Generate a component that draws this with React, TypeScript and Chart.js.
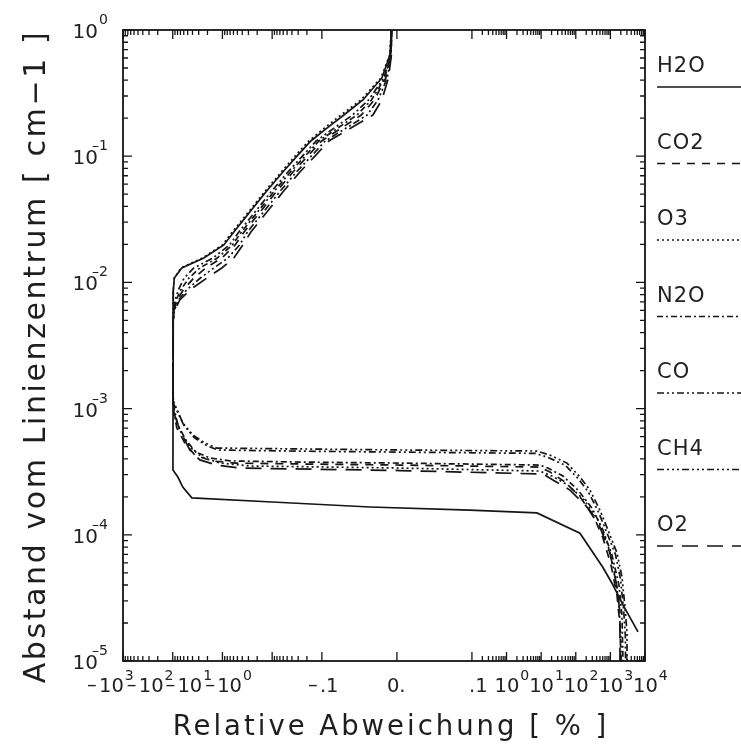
import React, { useEffect, useRef } from 'react';
import { Chart, Scale, registerables } from 'chart.js';

// ---------- axes ----------
const xMin = -1000;
const xMax = 10000;
const yMin = 1e-5;
const yMax = 1;
const xTickValues = [-1000, -100, -10, -1, -0.1, 0, 0.1, 1, 10, 100, 1000, 10000];
const xTickLabels = ['–10^3', '–10^2', '–10^1', '–10^0', '–.1', '0.', '.1', '10^0', '10^1', '10^2', '10^3', '10^4'];
const yTickExponents = [0, -1, -2, -3, -4, -5];

// ---------- data: relative deviation [%] vs. distance from line centre [cm-1] ----------
// upper branch (shared distances)
const upperY = [1, 0.634, 0.417, 0.279, 0.212, 0.167, 0.132, 0.102, 0.075, 0.052, 0.0361, 0.0251, 0.0198, 0.0156, 0.013, 0.01083, 0.0087, 0.00726, 0.00604, 0.00503];

const h2oUpperX = [-0.0073, -0.0093, -0.02, -0.0453, -0.0707, -0.0933, -0.1665, -0.304, -0.609, -1.339, -2.81, -5.9, -9.37, -23.7, -65.6, -92.9, -97.3, -98.2, -98.3, -98.4];
const h2oLowerX = [-98.6, -99, -78.9, -62.7, -41.3, -1.0, -0.036, 0.097, 7.56, 132, 611, 1189, 2310, 6280];
const h2oLowerY = [1.2e-3, 3.26e-4, 2.87e-4, 2.39e-4, 1.96e-4, 1.82e-4, 1.66e-4, 1.57e-4, 1.49e-4, 1.03e-4, 5.5e-5, 4.0e-5, 2.78e-5, 1.7e-5];

const co2UpperX = [-0.0072, -0.0081, -0.0148, -0.0301, -0.0475, -0.0741, -0.101, -0.1843, -0.3797, -0.835, -1.752, -3.68, -5.53, -10.3, -21.6, -37.8, -61.5, -81.6, -93.3, -98.2];
const co2LowerX = [-98.6, -99, -82.7, -57.1, -35.9, -16.3, -5.5, -0.28, 0.004, 9.2, 17.9, 48.8, 132, 314, 611, 1040, 1552, 1890, 2020];
const co2LowerY = [2e-3, 1.05e-3, 7.02e-4, 5.34e-4, 4.28e-4, 3.85e-4, 3.7e-4, 3.64e-4, 3.57e-4, 3.44e-4, 3.15e-4, 2.62e-4, 2.0e-4, 1.44e-4, 9.44e-5, 5.77e-5, 3.33e-5, 1.93e-5, 1e-5];

const o3UpperX = [-0.0073, -0.0096, -0.0213, -0.048, -0.0747, -0.0967, -0.1826, -0.3336, -0.653, -1.435, -3.01, -6.32, -10.0, -25.4, -68.7, -92.9, -97.3, -98.2, -98.3, -98.4];
const o3LowerX = [-98.5, -95.1, -68.7, -45.3, -26.0, -11.3, -2.81, 0.004, 9.2, 20.5, 59.6, 173, 438, 853, 1360, 1770, 2020, 2020];
const o3LowerY = [1.5e-3, 8.9e-4, 6.53e-4, 4.97e-4, 4.13e-4, 3.7e-4, 3.51e-4, 3.38e-4, 3.2e-4, 2.92e-4, 2.48e-4, 1.89e-4, 1.31e-4, 8.3e-5, 4.8e-5, 2.78e-5, 1.47e-5, 1e-5];

const n2oUpperX = [-0.0072, -0.0084, -0.0161, -0.0339, -0.0532, -0.0789, -0.1144, -0.2089, -0.427, -0.939, -1.97, -4.14, -6.31, -12.7, -28.5, -47.2, -69.0, -85.4, -94.6, -98.2];
const n2oLowerX = [-98.6, -99, -78.9, -54.5, -34.3, -17.9, -7.1, -0.28, 0.004, 9.2, 15.7, 42.7, 116, 294, 611, 1110, 1770, 2160, 2310];
const n2oLowerY = [2e-3, 1.1e-3, 7.41e-4, 5.64e-4, 4.53e-4, 4.06e-4, 3.85e-4, 3.77e-4, 3.7e-4, 3.57e-4, 3.38e-4, 2.92e-4, 2.26e-4, 1.63e-4, 1.09e-4, 6.92e-5, 4.0e-5, 2.31e-5, 1e-5];

const coUpperX = [-0.0073, -0.0087, -0.0174, -0.0377, -0.0591, -0.0837, -0.1297, -0.2367, -0.481, -1.057, -2.22, -4.66, -7.2, -15.6, -37.6, -59.1, -77.3, -89.5, -95.9, -98.2];
const coLowerX = [-98.6, -99, -60, -37, -21, -12.5, -0.28, 0.004, 6.9, 16, 50, 118, 232, 450, 780, 1400, 1950, 2400, 2700, 2750];
const coLowerY = [2e-3, 1.12e-3, 7.4e-4, 5.9e-4, 5.1e-4, 4.7e-4, 4.6e-4, 4.52e-4, 4.42e-4, 4.1e-4, 3.55e-4, 2.78e-4, 2.18e-4, 1.52e-4, 1.05e-4, 7.0e-5, 4.5e-5, 2.6e-5, 1.6e-5, 1e-5];

const ch4UpperX = [-0.0071, -0.0077, -0.0129, -0.0251, -0.0397, -0.0677, -0.0955, -0.156, -0.3245, -0.713, -1.496, -3.14, -4.51, -7.79, -14.9, -27.8, -52.8, -76.4, -92.0, -98.2];
const ch4LowerX = [-98.6, -99, -62.7, -39.4, -22.6, -13, -0.28, 0.004, 7.6, 17.9, 55.7, 132, 257, 500, 853, 1552, 2160, 2640, 3020, 3020];
const ch4LowerY = [2.2e-3, 1.17e-3, 7.69e-4, 6.18e-4, 5.34e-4, 4.87e-4, 4.79e-4, 4.7e-4, 4.61e-4, 4.28e-4, 3.7e-4, 2.87e-4, 2.26e-4, 1.57e-4, 1.09e-4, 7.18e-5, 4.63e-5, 2.68e-5, 1.67e-5, 1e-5];

const o2UpperX = [-0.0071, -0.0073, -0.0113, -0.02, -0.032, -0.0613, -0.0907, -0.132, -0.277, -0.609, -1.278, -2.68, -3.89, -5.9, -10.3, -20.6, -45.3, -71.9, -90.7, -98.2];
const o2LowerX = [-98.6, -99, -72, -45.3, -28.5, -13, -4.47, 0.004, 11.3, 21.9, 68, 211, 500, 973, 1552, 1890, 1890];
const o2LowerY = [2e-3, 9.75e-4, 6.77e-4, 4.7e-4, 3.92e-4, 3.57e-4, 3.38e-4, 3.23e-4, 3.03e-4, 2.72e-4, 2.26e-4, 1.66e-4, 1.15e-4, 7.18e-5, 3.86e-5, 2.4e-5, 1e-5];

const gases = [
  { name: 'H2O', upX: h2oUpperX, lowX: h2oLowerX, lowY: h2oLowerY },
  { name: 'CO2', upX: co2UpperX, lowX: co2LowerX, lowY: co2LowerY },
  { name: 'O3', upX: o3UpperX, lowX: o3LowerX, lowY: o3LowerY },
  { name: 'N2O', upX: n2oUpperX, lowX: n2oLowerX, lowY: n2oLowerY },
  { name: 'CO', upX: coUpperX, lowX: coLowerX, lowY: coLowerY },
  { name: 'CH4', upX: ch4UpperX, lowX: ch4LowerX, lowY: ch4LowerY },
  { name: 'O2', upX: o2UpperX, lowX: o2LowerX, lowY: o2LowerY },
];

// ---------- styles ----------
const INK = '#151515';
const FONT = '"DejaVu Sans", sans-serif';
const dashes: Record<string, number[]> = {
  H2O: [],
  CO2: [8, 7],
  O3: [2, 3],
  N2O: [6, 3, 2, 3],
  CO: [7, 3, 2, 3, 2, 3],
  CH4: [7, 3, 2, 3, 2, 3, 2, 3],
  O2: [16, 9],
};

// ---------- split-log x scale: log decades on both sides, linear band around 0 ----------
const LIN_T = 0.1;
const NEG_DECADE = 49.7;
const LIN_HALF = 75;
const POS_DECADE = 34.6;

function symFwd(v: number) {
  if (v <= -LIN_T) return -(LIN_HALF + NEG_DECADE * Math.log10(-v / LIN_T));
  if (v >= LIN_T) return LIN_HALF + POS_DECADE * Math.log10(v / LIN_T);
  return (v / LIN_T) * LIN_HALF;
}
function symInv(t: number) {
  if (t <= -LIN_HALF) return -LIN_T * Math.pow(10, (-t - LIN_HALF) / NEG_DECADE);
  if (t >= LIN_HALF) return LIN_T * Math.pow(10, (t - LIN_HALF) / POS_DECADE);
  return (t / LIN_HALF) * LIN_T;
}

class SplitLogScale extends Scale {
  static id = 'splitlog';
  static defaults = {};
  declare _t0: number;
  declare _tSpan: number;

  determineDataLimits() {
    const { min, max } = (this as any).getMinMax(true);
    const o: any = this.options;
    this.min = Number.isFinite(o.min) ? o.min : min;
    this.max = Number.isFinite(o.max) ? o.max : max;
  }
  buildTicks() {
    return xTickValues.map((value) => ({ value }));
  }
  configure() {
    super.configure();
    this._t0 = symFwd(this.min);
    this._tSpan = symFwd(this.max) - this._t0;
  }
  getPixelForValue(v: number) {
    return this.getPixelForDecimal((symFwd(v) - this._t0) / this._tSpan);
  }
  getValueForPixel(p: number) {
    return symInv(this._t0 + this.getDecimalForPixel(p) * this._tSpan);
  }
}

Chart.register(...registerables, SplitLogScale);

// minor tick positions
const xMinor: number[] = [];
for (const n of [2, 1, 0, -1]) for (let k = 2; k <= 9; k++) xMinor.push(-k * Math.pow(10, n));
for (const n of [-1, 0, 1, 2, 3]) for (let k = 2; k <= 9; k++) xMinor.push(k * Math.pow(10, n));
const yMinor: number[] = [];
for (let n = -5; n <= -1; n++) for (let k = 2; k <= 9; k++) yMinor.push(k * Math.pow(10, n));

// label start relative to its tick
const xLabelShift = [-36, -46, -57, -67, -14, -10, -3, -12, -12, -12, -12, -12];

const frame = {
  id: 'frame',
  afterDraw(chart: any) {
    const { ctx, chartArea: ca, scales } = chart;
    const xs = scales.x;
    const ys = scales.y;
    ctx.save();
    ctx.strokeStyle = INK;
    ctx.fillStyle = '#222';

    // box
    ctx.lineWidth = 1.8;
    ctx.setLineDash([]);
    ctx.strokeRect(ca.left, ca.top, ca.right - ca.left, ca.bottom - ca.top);

    // inward ticks on all four sides
    ctx.lineWidth = 1.3;
    ctx.beginPath();
    const xt = (v: number, len: number) => {
      const p = xs.getPixelForValue(v);
      ctx.moveTo(p, ca.bottom);
      ctx.lineTo(p, ca.bottom - len);
      ctx.moveTo(p, ca.top);
      ctx.lineTo(p, ca.top + len);
    };
    const yt = (v: number, len: number) => {
      const p = ys.getPixelForValue(v);
      ctx.moveTo(ca.left, p);
      ctx.lineTo(ca.left + len, p);
      ctx.moveTo(ca.right, p);
      ctx.lineTo(ca.right - len, p);
    };
    xTickValues.forEach((v) => xt(v, 9));
    xMinor.forEach((v) => xt(v, 5));
    yTickExponents.forEach((e) => yt(Math.pow(10, e), 9));
    yMinor.forEach((v) => yt(v, 5));
    ctx.stroke();

    // y tick labels
    yTickExponents.forEach((e) => {
      const p = ys.getPixelForValue(Math.pow(10, e));
      const xr = ca.left - 25;
      ctx.font = `20px ${FONT}`;
      ctx.textAlign = 'right';
      ctx.fillText('10', xr, p + 8);
      ctx.font = `14px ${FONT}`;
      ctx.textAlign = 'left';
      ctx.fillText(String(Math.abs(e)), xr + 1, p - 6);
      if (e < 0) {
        ctx.textAlign = 'right';
        ctx.fillText('–', xr + 1, p - 6);
      }
    });

    // x tick labels
    const baseY = ca.bottom + 31;
    const supY = ca.bottom + 19;
    xTickLabels.forEach((lab, i) => {
      let x = xs.getPixelForValue(xTickValues[i]) + xLabelShift[i];
      const [base, exp] = lab.split('^');
      ctx.textAlign = 'left';
      ctx.font = `19.5px ${FONT}`;
      let b = base;
      if (b.startsWith('–')) {
        ctx.fillText('–', x, baseY - 1);
        x += 12;
        b = b.slice(1);
      }
      ctx.fillText(b, x, baseY);
      x += ctx.measureText(b).width;
      if (exp !== undefined) {
        ctx.font = `14px ${FONT}`;
        ctx.fillText(exp, x + 1, supY);
      }
    });

    // axis titles
    ctx.fillStyle = '#1e1e1e';
    ctx.textAlign = 'center';
    ctx.font = `27.5px ${FONT}`;
    (ctx as any).letterSpacing = '3px';
    ctx.fillText('Relative Abweichung [ % ]', (ca.left + ca.right) / 2 + 7, ca.bottom + 74);
    ctx.save();
    ctx.translate(45, (ca.top + ca.bottom) / 2 + 11);
    ctx.rotate(-Math.PI / 2);
    ctx.font = `30px ${FONT}`;
    (ctx as any).letterSpacing = '2.6px';
    ctx.fillText('Abstand vom Linienzentrum [ cm−1 ]', 0, 0);
    ctx.restore();

    // legend on the right
    (ctx as any).letterSpacing = '1px';
    ctx.textAlign = 'left';
    ctx.font = `21px ${FONT}`;
    chart.data.datasets.forEach((ds: any, i: number) => {
      const ly = ca.top + 57 + i * 76.5;
      const lx = ca.right + 12;
      ctx.fillStyle = '#222';
      ctx.fillText(ds.label, lx, ly - 15);
      ctx.lineWidth = 1.6;
      ctx.setLineDash(ds.borderDash);
      ctx.beginPath();
      ctx.moveTo(lx, ly);
      ctx.lineTo(chart.width, ly);
      ctx.stroke();
    });
    ctx.restore();
  },
};

export default function App() {
  const ref = useRef<HTMLCanvasElement | null>(null);
  useEffect(() => {
    if (!ref.current) return;
    const datasets = gases.map((g) => ({
      label: g.name,
      data: g.upX
        .map((x, i) => ({ x, y: upperY[i] }))
        .concat(g.lowX.map((x, i) => ({ x, y: g.lowY[i] }))),
      showLine: true,
      borderColor: INK,
      borderWidth: 1.7,
      borderDash: dashes[g.name],
      pointRadius: 0,
      fill: false,
      tension: 0,
    }));
    const chart = new Chart(ref.current, {
      type: 'scatter',
      data: { datasets } as any,
      options: {
        responsive: false,
        animation: false,
        devicePixelRatio: 1,
        layout: { padding: { left: 123, top: 30, right: 96, bottom: 85 } },
        plugins: { legend: { display: false }, tooltip: { enabled: false } },
        scales: {
          x: { type: 'splitlog', min: xMin, max: xMax, display: false } as any,
          y: { type: 'logarithmic', min: yMin, max: yMax, display: false },
        },
      },
      plugins: [frame],
    });
    return () => chart.destroy();
  }, []);
  return (
    <div style={{ position: 'fixed', left: 0, top: 0, width: 741, height: 746, background: '#fff' }}>
      <canvas ref={ref} width={741} height={746} style={{ display: 'block' }} />
    </div>
  );
}
